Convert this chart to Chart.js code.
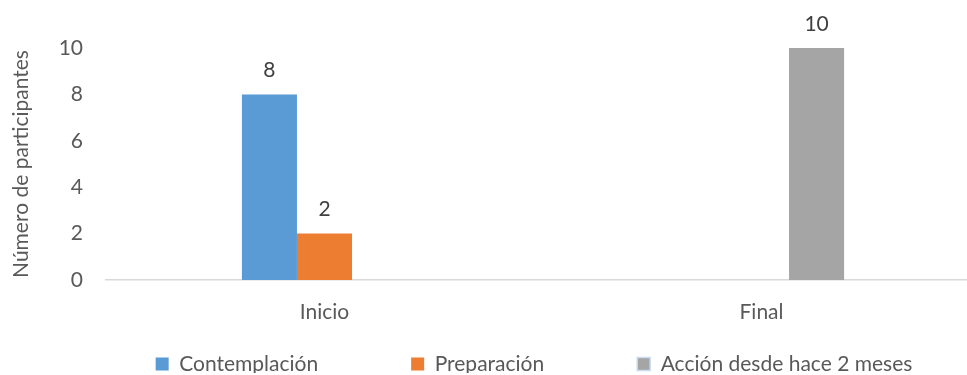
<!DOCTYPE html>
<html>
<head>
<meta charset="utf-8">
<script src="https://cdn.jsdelivr.net/npm/chart.js@4.4.0/dist/chart.umd.min.js"></script>
<style>
  html, body { margin: 0; padding: 0; background: #ffffff; overflow: hidden; width: 967px; height: 375px; }
  #wrap { position: relative; width: 1060px; height: 375px; }
</style>
</head>
<body>
<div id="wrap"><canvas id="chart" width="1060" height="375"></canvas></div>
<script>
// Stage of change per moment of measurement
const categories = ['Inicio', 'Final'];
const seriesNames = ['Contemplación', 'Preparación', 'Acción desde hace 2 meses'];
const contemplacion = [8, 0];
const preparacion = [2, 0];
const accion = [0, 10];
const yTicks = [0, 2, 4, 6, 8, 10];
const yTitle = 'Número de participantes';

const seriesColors = ['#5B9BD5', '#ED7D31', '#A5A5A5'];
const FONT = 'Lato, "Open Sans", sans-serif';
const TEXT = '#595959';
const FS = 21;
const LEGEND_GAP = 93;

// Value labels above every non-zero bar
const valueLabels = {
  id: 'valueLabels',
  afterDatasetsDraw(chart) {
    const ctx = chart.ctx;
    ctx.save();
    ctx.font = FS + 'px ' + FONT;
    ctx.fillStyle = '#404040';
    ctx.textAlign = 'center';
    ctx.textBaseline = 'middle';
    chart.data.datasets.forEach((ds, i) => {
      const meta = chart.getDatasetMeta(i);
      meta.data.forEach((bar, j) => {
        const v = ds.data[j];
        if (v) ctx.fillText(String(v), bar.x, bar.y - 24);
      });
    });
    ctx.restore();
  }
};

// Place the legend row: centred under the visible page, one line near the bottom
const legendPlace = {
  id: 'legendPlace',
  afterLayout(chart) {
    const lg = chart.legend;
    if (!lg) return;
    lg.left += 44; lg.right += 44;
    lg.top = 364 - LEGEND_GAP - FS / 2;
  }
};

new Chart(document.getElementById('chart'), {
  type: 'bar',
  data: {
    labels: categories,
    datasets: [
      { label: seriesNames[0], data: contemplacion, backgroundColor: seriesColors[0] },
      { label: seriesNames[1], data: preparacion, backgroundColor: seriesColors[1] },
      { label: seriesNames[2], data: accion, backgroundColor: seriesColors[2] }
    ]
  },
  options: {
    responsive: false,
    animation: false,
    devicePixelRatio: 1,
    layout: { padding: { top: 48, right: 80, bottom: 2, left: 0 } },
    datasets: { bar: { barPercentage: 1, categoryPercentage: 0.378 } },
    scales: {
      x: {
        grid: { display: false, drawTicks: false },
        border: { display: true, color: '#D9D9D9', width: 1.5 },
        ticks: { color: TEXT, font: { family: FONT, size: FS }, padding: 20 },
        afterFit(s) { s.height = 45; }
      },
      y: {
        min: 0, max: 10,
        afterBuildTicks(s) { s.ticks = yTicks.map(v => ({ value: v })); },
        grid: { display: false, drawTicks: false },
        border: { display: false },
        ticks: { color: TEXT, font: { family: FONT, size: FS }, padding: 23 },
        title: { display: true, text: yTitle, color: TEXT, font: { family: FONT, size: FS }, padding: { top: 9, bottom: 0 } },
        afterFit(s) { s.width = 106; }
      }
    },
    plugins: {
      tooltip: { enabled: false },
      legend: {
        position: 'bottom',
        maxHeight: 48,
        labels: {
          color: TEXT,
          font: { family: FONT, size: FS },
          boxWidth: 13,
          boxHeight: 13,
          padding: LEGEND_GAP,
          generateLabels(chart) {
            const items = Chart.defaults.plugins.legend.labels.generateLabels(chart);
            items.forEach(it => { it.lineWidth = 0; });
            const last = items[items.length - 1];
            last.lineWidth = 1.5;
            last.strokeStyle = '#C9DCF0';
            return items;
          }
        }
      }
    }
  },
  plugins: [valueLabels, legendPlace]
});
</script>
</body>
</html>
